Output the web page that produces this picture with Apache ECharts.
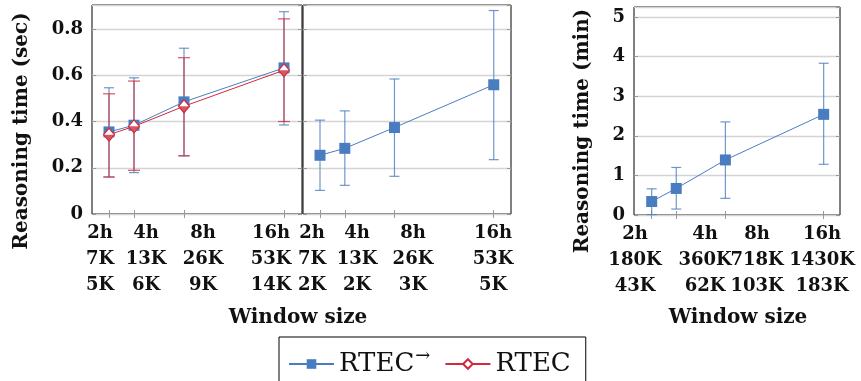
<!DOCTYPE html>
<html>
<head>
<meta charset="utf-8">
<script src="https://cdn.jsdelivr.net/npm/echarts@6/dist/echarts.min.js"></script>
<style>
html, body { margin: 0; padding: 0; background: #fff; }
#chart { width: 861px; height: 381px; }
</style>
</head>
<body>
<div id="chart"></div>
<script>
// x positions (hours) and the three-line tick labels
const hours = [2, 4, 8, 16]
const hourLabels = ['2h', '4h', '8h', '16h']
const leftEvents = ['7K', '13K', '26K', '53K']
const leftFacts = ['5K', '6K', '9K', '14K']
const midEvents = ['7K', '13K', '26K', '53K']
const midFacts = ['2K', '2K', '3K', '5K']
const rightEvents = ['180K', '360K', '718K', '1430K']
const rightFacts = ['43K', '62K', '103K', '183K']
// where the labels sit (in hours) - spread out, not under the ticks
const leftLabelAt = [1.28, 4.96, 9.52, 14.96]
const midLabelAt = [1.36, 4.98, 9.49, 15.94]
const rightLabelAt = [0.64, 6.34, 10.58, 15.87]

// panel 1 (sec)
const arrowA = [0.355, 0.384, 0.485, 0.632]
const arrowALow = [0.16, 0.179, 0.251, 0.385]
const arrowAHigh = [0.546, 0.589, 0.717, 0.875]
const rtecA = [0.343, 0.379, 0.466, 0.622]
const rtecALow = [0.16, 0.189, 0.252, 0.40]
const rtecAHigh = [0.52, 0.575, 0.676, 0.844]
// panel 2 (sec)
const arrowB = [0.254, 0.284, 0.374, 0.559]
const arrowBLow = [0.102, 0.124, 0.163, 0.235]
const arrowBHigh = [0.406, 0.446, 0.584, 0.88]
// panel 3 (min)
const arrowC = [0.34, 0.67, 1.39, 2.54]
const arrowCLow = [0.01, 0.15, 0.42, 1.28]
const arrowCHigh = [0.66, 1.2, 2.35, 3.83]

const secTicks = [0, 0.2, 0.4, 0.6, 0.8]
const minTicks = [0, 1, 2, 3, 4, 5]

const BLUE = '#4a7dbf'
const RED = '#d12a3c'
const FONT = 'DejaVu Serif'

const chart = echarts.init(document.getElementById('chart'))

function pairs (ys) {
  return hours.map((h, i) => [h, ys[i]])
}

function labelFn (at, a, b) {
  return function (v) {
    const i = at.indexOf(v)
    if (i < 0) return ''
    return hourLabels[i] + '\n' + a[i] + '\n' + b[i]
  }
}

const tickLabelStyle = {
  fontFamily: FONT, fontWeight: 'bold', fontSize: 18, lineHeight: 26, color: '#111'
}

// ECharts drops labels that come close to each other, so every other label
// sits on a second axis moved down onto the bottom edge
function xAxes (gridIndex, min, max, height, at, a, b) {
  return [{
    type: 'value', gridIndex: gridIndex, min: min, max: max, position: 'bottom',
    axisLine: { show: false },
    axisTick: { inside: true, length: 4, customValues: hours, lineStyle: { color: '#999' } },
    axisLabel: {
      customValues: [at[0], at[2]], formatter: labelFn(at, a, b), margin: 6,
      showMinLabel: true, showMaxLabel: true, ...tickLabelStyle
    },
    splitLine: { show: false }
  }, {
    type: 'value', gridIndex: gridIndex, min: min, max: max, position: 'top',
    axisLine: { show: false },
    axisTick: { inside: true, length: 4, customValues: hours, lineStyle: { color: '#999' } },
    axisLabel: { show: false, customValues: hours },
    splitLine: { show: false }
  }, {
    type: 'value', gridIndex: gridIndex, min: min, max: max, position: 'top', offset: -height,
    axisLine: { show: false },
    axisTick: { show: false },
    axisLabel: {
      inside: true, customValues: [at[1], at[3]], formatter: labelFn(at, a, b), margin: 6,
      showMinLabel: true, showMaxLabel: true, ...tickLabelStyle
    },
    splitLine: { show: false }
  }]
}

function yAxes (gridIndex, max, interval, ticks, showLabels) {
  return [{
    type: 'value', gridIndex: gridIndex, min: 0, max: max, interval: interval, position: 'left',
    axisLine: { show: false },
    axisTick: { inside: true, length: 4, lineStyle: { color: '#999' } },
    axisLabel: {
      show: showLabels, showMaxLabel: false, margin: 9,
      formatter: v => ticks.indexOf(v) < 0 ? '' : (interval < 1 && v !== 0 ? v.toFixed(1) : String(v)),
      fontFamily: FONT, fontWeight: 'bold', fontSize: 18, color: '#111'
    },
    splitLine: { lineStyle: { color: '#d4d4d4', width: 1.3 } }
  }, {
    type: 'value', gridIndex: gridIndex, min: 0, max: max, interval: interval, position: 'right',
    axisLine: { show: false },
    axisTick: { inside: true, length: 4, lineStyle: { color: '#999' } },
    axisLabel: { show: false },
    splitLine: { show: false }
  }]
}

function errorBars (lows, highs, color, half, xIdx, yIdx) {
  return {
    type: 'custom',
    xAxisIndex: xIdx,
    yAxisIndex: yIdx,
    silent: true,
    z: 1,
    data: hours.map((h, i) => [h, lows[i], highs[i]]),
    renderItem (params, api) {
      const lo = api.coord([api.value(0), api.value(1)])
      const hi = api.coord([api.value(0), api.value(2)])
      const st = { stroke: color, lineWidth: 1.2, opacity: 0.8 }
      return {
        type: 'group',
        children: [
          { type: 'line', shape: { x1: lo[0], y1: lo[1], x2: hi[0], y2: hi[1] }, style: st },
          { type: 'line', shape: { x1: lo[0] - half, y1: lo[1], x2: lo[0] + half, y2: lo[1] }, style: st },
          { type: 'line', shape: { x1: hi[0] - half, y1: hi[1], x2: hi[0] + half, y2: hi[1] }, style: st }
        ]
      }
    }
  }
}

function blueLine (ys, xIdx, yIdx) {
  return {
    name: 'RTEC→', type: 'line', xAxisIndex: xIdx, yAxisIndex: yIdx,
    data: pairs(ys), symbol: 'rect', symbolSize: 11, z: 3,
    itemStyle: { color: BLUE }, lineStyle: { color: BLUE, width: 1 }
  }
}

function nameText (text, x, y, rotate) {
  return {
    type: 'text', x: x, y: y, rotation: rotate ? Math.PI / 2 : 0,
    style: {
      text: text, x: 0, y: 0, align: 'center', verticalAlign: 'middle',
      font: 'bold 20px "' + FONT + '"', fill: '#111'
    }
  }
}

chart.setOption({
  animation: false,
  grid: [
    { left: 92, top: 5, width: 210, height: 209, show: true, borderColor: '#000', borderWidth: 1, containLabel: false, outerBoundsMode: 'none' },
    { left: 303, top: 5, width: 208, height: 209, show: true, borderColor: '#000', borderWidth: 1, containLabel: false, outerBoundsMode: 'none' },
    { left: 634, top: 7, width: 206, height: 208, show: true, borderColor: '#000', borderWidth: 1, containLabel: false, outerBoundsMode: 'none' }
  ],
  xAxis: [
    ...xAxes(0, 0.64, 17.44, 209, leftLabelAt, leftEvents, leftFacts),
    ...xAxes(1, 0.63, 17.39, 209, midLabelAt, midEvents, midFacts),
    ...xAxes(2, 0.56, 17.33, 208, rightLabelAt, rightEvents, rightFacts)
  ],
  yAxis: [
    ...yAxes(0, 0.904, 0.2, secTicks, true),
    ...yAxes(1, 0.904, 0.2, secTicks, false),
    ...yAxes(2, 5.25, 1, minTicks, true)
  ],
  legend: {
    left: 279, top: 337,
    data: ['RTEC→', 'RTEC'],
    borderColor: '#000', borderWidth: 1,
    padding: [10, 15, 20, 9],
    itemWidth: 45, itemHeight: 12, itemGap: 14,
    formatter: name => name === 'RTEC→' ? 'RTEC{sup|→}' : name,
    textStyle: {
      fontFamily: FONT, fontSize: 26, color: '#111', lineHeight: 26,
      rich: { sup: { fontFamily: FONT, fontSize: 18, padding: [0, 0, 16, 1] } }
    }
  },
  graphic: [
    nameText('Reasoning time (sec)', 22, 131, true),
    nameText('Reasoning time (min)', 583, 131, true),
    nameText('Window size', 298, 318, false),
    nameText('Window size', 738, 318, false)
  ],
  series: [
    errorBars(arrowALow, arrowAHigh, BLUE, 5, 0, 0),
    errorBars(rtecALow, rtecAHigh, RED, 6, 0, 0),
    blueLine(arrowA, 0, 0),
    {
      name: 'RTEC', type: 'line', xAxisIndex: 0, yAxisIndex: 0,
      data: pairs(rtecA), symbol: 'diamond', symbolSize: [11, 13], z: 4,
      itemStyle: { color: '#fff', borderColor: RED, borderWidth: 1.2 },
      lineStyle: { color: RED, width: 1 }
    },
    {
      // lower filled half of the red diamonds
      type: 'scatter', xAxisIndex: 0, yAxisIndex: 0, silent: true, z: 5,
      data: pairs(rtecA), symbol: 'triangle', symbolRotate: 180,
      symbolSize: [11, 6.5], symbolOffset: [0, 3.2],
      itemStyle: { color: RED }
    },
    errorBars(arrowBLow, arrowBHigh, BLUE, 5, 3, 2),
    blueLine(arrowB, 3, 2),
    errorBars(arrowCLow, arrowCHigh, BLUE, 5, 6, 4),
    blueLine(arrowC, 6, 4)
  ]
})
</script>
</body>
</html>
